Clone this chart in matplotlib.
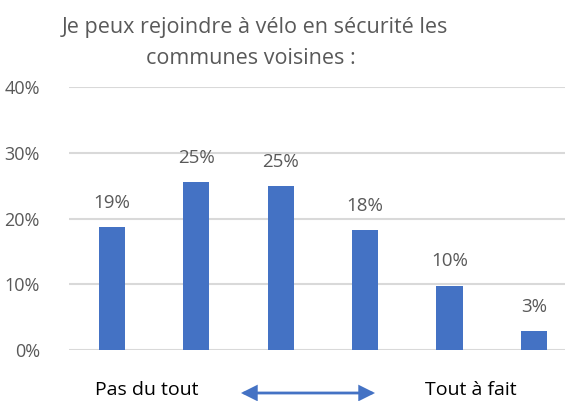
import matplotlib
matplotlib.use("Agg")
import matplotlib.pyplot as plt

plt.rcParams['font.family'] = ['Open Sans', 'DejaVu Sans']

categories = ["1", "2", "3", "4", "5", "6"]
values = [18.7, 25.5, 25.0, 18.3, 9.8, 2.9]
labels = ["19%", "25%", "25%", "18%", "10%", "3%"]
yticks = [0, 10, 20, 30, 40]
ytick_labels = ["0%", "10%", "20%", "30%", "40%"]
title_lines = ["Je peux rejoindre à vélo en sécurité les", "communes voisines :"]
left_label = "Pas du tout"
right_label = "Tout à fait"

W, H = 565, 401
fig = plt.figure(figsize=(W / 100, H / 100), dpi=100)
ax = fig.add_axes([69 / W, (H - 350) / H, (565 - 69) / W, (350 - 87) / H])

grey = "#595959"
blue = "#4472C4"
x = list(range(len(categories)))
ax.bar(x, values, width=0.31, color=blue, zorder=3)
for xi, v, lab in zip(x, values, labels):
    ax.text(xi, v + 2.3, lab, ha="center", va="bottom", fontsize=13.5, color=grey)

ax.set_xlim(-0.51, 5.37)
ax.set_ylim(0, 40)
ax.set_yticks(yticks)
ax.set_yticklabels(ytick_labels, fontsize=13, color=grey)
ax.set_xticks([])
ax.tick_params(axis="y", length=0, pad=21)
for s in ax.spines.values():
    s.set_visible(False)
ax.yaxis.grid(True, color="#D9D9D9", linewidth=1.5, zorder=0)
ax.set_axisbelow(True)

fig.text(255 / W, 1 - 28 / H, title_lines[0], ha="center", va="center", fontsize=15.5,
         color=grey)
fig.text(251 / W, 1 - 58 / H, title_lines[1], ha="center", va="center", fontsize=15.5,
         color=grey)
fig.text(147 / W, 1 - 390 / H, left_label, ha="center", va="center", fontsize=14, color="black")
fig.text(471 / W, 1 - 390 / H, right_label, ha="center", va="center", fontsize=14, color="black")
ax.annotate("", xy=(375 / W, 1 - 393 / H), xytext=(241 / W, 1 - 393 / H),
            xycoords="figure fraction", textcoords="figure fraction",
            arrowprops=dict(arrowstyle="<|-|>", color=blue, lw=2, mutation_scale=22,
                            shrinkA=0, shrinkB=0, joinstyle="miter"))

fig.savefig("out.png", dpi=100)
